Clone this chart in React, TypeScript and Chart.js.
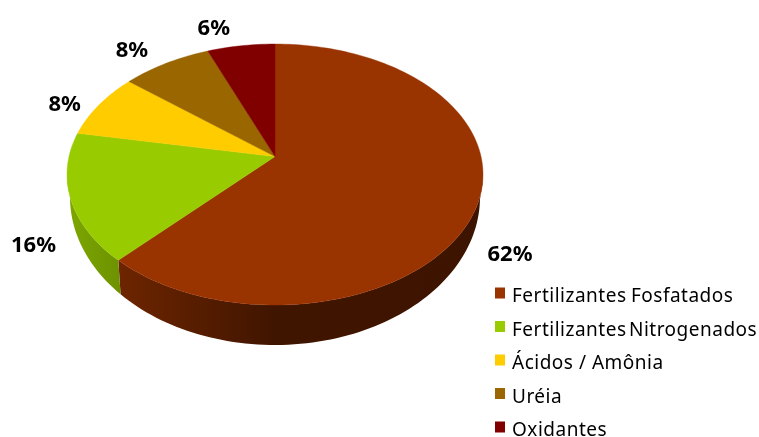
import React, { useEffect, useRef } from "react";
import { Chart, registerables } from "chart.js";

Chart.register(...registerables);

const categories = ["Fertilizantes Fosfatados", "Fertilizantes Nitrogenados", "Ácidos / Amônia", "Uréia", "Oxidantes"];
const shares = [62, 16, 8, 8, 6];
const sliceColors = ["#993300", "#99CC00", "#FFCC00", "#996600", "#800000"];
const valueLabelAnchors = [[510, 261], [33.5, 252], [64.7, 111], [132, 57], [213.8, 35]];
const legendWordGaps = ["-1px", "-3px", "0px", "0px", "0px"];

const TOP = { cx: 275, cy: 174.5, rx: 208, ry: 130.5 };
const BOTTOM = { cx: 275, cy: 197, rx: 205, ry: 148 };
const TILT = 0.137;
const FONT = '"Noto Sans", sans-serif';

function shade(hex: string, f: number) {
  const n = parseInt(hex.slice(1), 16);
  const c = [(n >> 16) & 255, (n >> 8) & 255, n & 255].map((v) => Math.round(v * f));
  return `rgb(${c[0]},${c[1]},${c[2]})`;
}

// Perspective view of a unit circle: its centre lands on the off-centre apex.
function project(theta: number) {
  const x = Math.sin(theta);
  const y = Math.cos(theta);
  const d = 1 + TILT * y;
  return { u: (x * Math.sqrt(1 - TILT * TILT)) / d, v: (y + TILT) / d };
}
const onRim = (e: typeof TOP, p: { u: number; v: number }) => [e.cx + e.rx * p.u, e.cy - e.ry * p.v];

const pie3d = {
  id: "pie3d",
  beforeDatasetDraw(chart: Chart) {
    const ctx = chart.ctx;
    const arcs = chart.getDatasetMeta(0).data as any[];
    const STEPS = 240;
    const sampled = arcs.map((arc) => {
      const a0 = arc.startAngle + Math.PI / 2;
      const a1 = arc.endAngle + Math.PI / 2;
      const n = Math.max(2, Math.ceil((STEPS * (a1 - a0)) / (2 * Math.PI)));
      const pts = [];
      for (let i = 0; i <= n; i++) pts.push(project(a0 + ((a1 - a0) * i) / n));
      return pts;
    });
    // side wall
    sampled.forEach((pts, i) => {
      const front = pts.filter((p) => p.v <= 0);
      if (front.length < 2) return;
      const g = ctx.createLinearGradient(67, 0, 483, 0);
      const col = sliceColors[i];
      g.addColorStop(0, shade(col, 0.82));
      g.addColorStop(0.12, shade(col, 0.72));
      g.addColorStop(0.5, shade(col, 0.42));
      g.addColorStop(1, shade(col, 0.4));
      ctx.beginPath();
      front.forEach((p, k) => {
        const [x, y] = onRim(TOP, p);
        k ? ctx.lineTo(x, y) : ctx.moveTo(x, y);
      });
      [...front].reverse().forEach((p) => {
        const [x, y] = onRim(BOTTOM, p);
        ctx.lineTo(x, y);
      });
      ctx.closePath();
      ctx.fillStyle = g;
      ctx.fill();
    });
    // top face
    const apex = onRim(TOP, { u: 0, v: TILT });
    sampled.forEach((pts, i) => {
      ctx.beginPath();
      ctx.moveTo(apex[0], apex[1]);
      pts.forEach((p) => {
        const [x, y] = onRim(TOP, p);
        ctx.lineTo(x, y);
      });
      ctx.closePath();
      ctx.fillStyle = sliceColors[i];
      ctx.strokeStyle = sliceColors[i];
      ctx.lineWidth = 0.4;
      ctx.fill();
      ctx.stroke();
    });
    return false;
  },
  afterDatasetsDraw(chart: Chart) {
    const ctx = chart.ctx as any;
    ctx.save();
    ctx.fillStyle = "#000";
    ctx.textBaseline = "alphabetic";
    ctx.textAlign = "center";
    ctx.font = `bold 22px ${FONT}`;
    shares.forEach((v, i) => {
      const [x, y] = valueLabelAnchors[i];
      ctx.fillText(`${v}%`, x, y);
    });
    ctx.textAlign = "left";
    ctx.font = `19px ${FONT}`;
    ctx.letterSpacing = "0.5px";
    categories.forEach((label, i) => {
      const y = 293 + i * 33.5;
      ctx.fillStyle = sliceColors[i];
      ctx.fillRect(495, y - 5.5, 10, 11);
      ctx.fillStyle = "#000";
      ctx.wordSpacing = legendWordGaps[i];
      ctx.fillText(label, 512, y + 9);
    });
    ctx.restore();
  },
};

export default function App() {
  const ref = useRef<HTMLCanvasElement>(null);
  useEffect(() => {
    const chart = new Chart(ref.current!, {
      type: "pie",
      data: { labels: categories, datasets: [{ data: shares, backgroundColor: sliceColors, borderWidth: 0 }] },
      options: {
        animation: false,
        responsive: false,
        plugins: { legend: { display: false }, tooltip: { enabled: false } },
      },
      plugins: [pie3d],
    });
    return () => chart.destroy();
  }, []);
  return (
    <div style={{ position: "fixed", left: 0, top: 0, width: 759, height: 437, background: "#fff" }}>
      <canvas ref={ref} width={759} height={437} style={{ display: "block" }} />
    </div>
  );
}
